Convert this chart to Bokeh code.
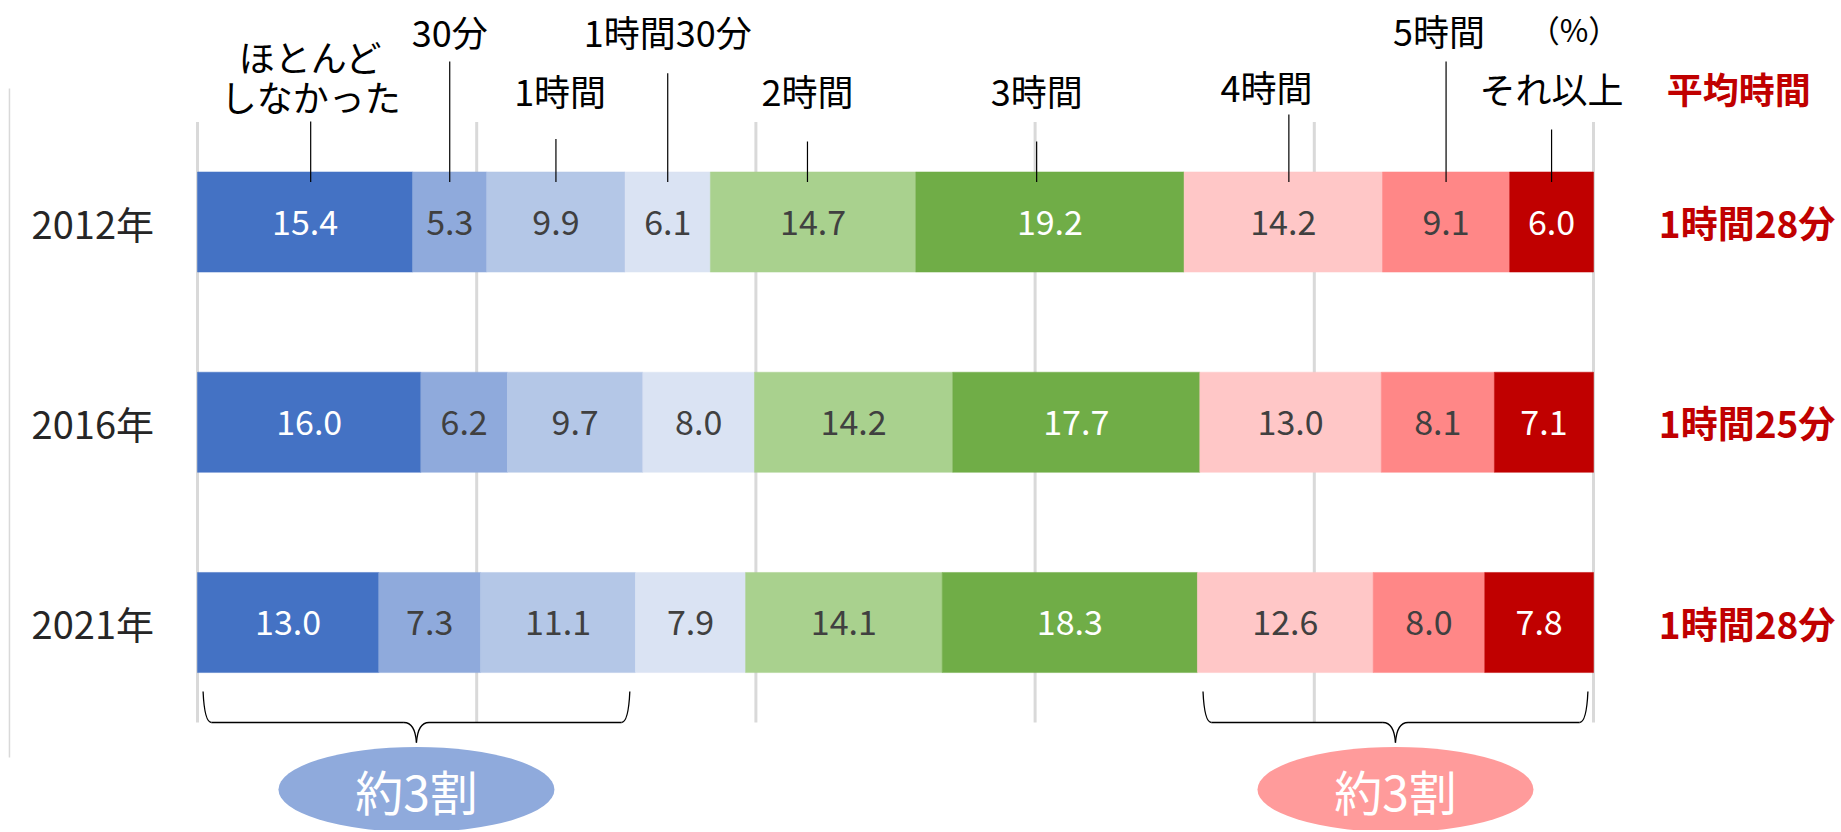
import numpy as np
from bokeh.plotting import figure
from bokeh.models import Range1d, ColumnDataSource
from bokeh.core.properties import value
from bokeh.embed import file_html
from bokeh.resources import INLINE

# ---------------- data ----------------
years = ["2012年", "2016年", "2021年"]
categories = ["ほとんど\nしなかった", "30分", "1時間", "1時間30分", "2時間",
              "3時間", "4時間", "5時間", "それ以上"]
values_2012 = [15.4, 5.3, 9.9, 6.1, 14.7, 19.2, 14.2, 9.1, 6.0]
values_2016 = [16.0, 6.2, 9.7, 8.0, 14.2, 17.7, 13.0, 8.1, 7.1]
values_2021 = [13.0, 7.3, 11.1, 7.9, 14.1, 18.3, 12.6, 8.0, 7.8]
average_time = ["1時間28分", "1時間25分", "1時間28分"]
average_title = "平均時間"
unit_label = "（%）"
grid_ticks = [0, 20, 40, 60, 80, 100]
brace_groups = [(0, 3), (6, 9)]          # category index ranges on the 2021 bar
brace_text = ["約3割", "約3割"]

# ---------------- styles ----------------
seg_colors = ["#4472C4", "#8FAADC", "#B4C7E7", "#DAE3F3", "#A9D18E",
              "#70AD47", "#FFC7C7", "#FF8787", "#C00000"]
label_colors = ["#FFFFFF", "#404040", "#404040", "#404040", "#404040",
                "#FFFFFF", "#404040", "#404040", "#FFFFFF"]
brace_fill = ["#8FAADC", "#FF9B9B"]
FONT = value("Noto Sans CJK JP")

W, H = 1836, 830
PX_PER_PCT = 13.96
X0_PX = 197.0
PX_PER_ROW = 200.25
Y0_PX = 221.5

rows = [values_2012, values_2016, values_2021]

# stacked (normalised to 100%) segments
ys, lefts, rights, mids, cols, labs, tcols = [], [], [], [], [], [], []
cum_rows = []
for i, row in enumerate(rows):
    arr = np.array(row, dtype=float)
    norm = arr / arr.sum() * 100.0
    right = np.cumsum(norm)
    left = right - norm
    cum_rows.append((left, right))
    for j in range(len(row)):
        ys.append(i)
        lefts.append(left[j])
        rights.append(right[j])
        mids.append((left[j] + right[j]) / 2)
        cols.append(seg_colors[j])
        labs.append(f"{row[j]:.1f}")
        tcols.append(label_colors[j])

src = ColumnDataSource(dict(y=ys, left=lefts, right=rights, mid=mids,
                            color=cols, label=labs, tcolor=tcols))

x_start = (0 - X0_PX) / PX_PER_PCT
x_end = x_start + W / PX_PER_PCT
y_top = (0 - Y0_PX) / PX_PER_ROW
y_bot = (H - Y0_PX) / PX_PER_ROW

p = figure(width=W, height=H,
           x_range=Range1d(x_start, x_end),
           y_range=Range1d(y_bot, y_top),
           output_backend="svg", toolbar_location=None,
           x_axis_location=None, y_axis_location=None,
           min_border=0, outline_line_color=None,
           background_fill_color="white", border_fill_color="white")
p.xgrid.visible = False
p.ygrid.visible = False

# left thin axis line
p.segment(x0=[-13.47], y0=[-0.667], x1=[-13.47], y1=[2.674],
          line_color="#D9D9D9", line_width=1.5)

# vertical gridlines
p.segment(x0=grid_ticks, y0=[-0.5] * len(grid_ticks),
          x1=grid_ticks, y1=[2.4994] * len(grid_ticks),
          line_color="#D9D9D9", line_width=3)

# bars
p.hbar(y="y", left="left", right="right", height=0.5,
       fill_color="color", line_color="color", line_width=0.5, source=src)

# value labels
p.text(x="mid", y="y", text="label", text_color="tcolor",
       text_align="center", text_baseline="middle",
       text_font=FONT, text_font_size="34px", source=src)

# year labels
p.text(x=[-7.5] * 3, y=list(range(len(years))), text=years,
       text_color="#262626", text_align="center", text_baseline="middle",
       text_font=FONT, text_font_size="38px")

# category labels with leader lines (on the 2012 bar)
left0, right0 = cum_rows[0]
mid0 = (left0 + right0) / 2
line_nudge = [0.4, 0, 0, 0, -0.4, -0.95, 0.4, 0, 0]
text_nudge = [0, 0, 0.3, 0, 0, 0, -1.6, -0.5, 0]
label_y = [(-0.828, -0.627), -0.955, -0.657, -0.955, -0.657, -0.657, -0.677, -0.96, -0.667]
line_top = [-0.502, -0.801, -0.414, -0.743, -0.402, -0.402, -0.537, -0.801, -0.462]
line_bottom = -0.2

lx = [mid0[j] + line_nudge[j] for j in range(len(categories))]
p.segment(x0=lx, y0=line_top, x1=lx, y1=[line_bottom] * len(lx),
          line_color="#000000", line_width=1.2)

tx, ty, tt = [], [], []
for j, name in enumerate(categories):
    parts = name.split("\n")
    if len(parts) == 1:
        tx.append(lx[j] + text_nudge[j]); ty.append(label_y[j]); tt.append(parts[0])
    else:
        for k, part in enumerate(parts):
            tx.append(lx[j] + text_nudge[j]); ty.append(label_y[j][k]); tt.append(part)
p.text(x=tx, y=ty, text=tt, text_color="#000000", text_align="center",
       text_baseline="middle", text_font=FONT, text_font_size="36px")

# unit
p.text(x=[98.6], y=[-0.965], text=[unit_label], text_color="#000000",
       text_align="center", text_baseline="middle", text_font=FONT,
       text_font_size="31px")

# average time
p.text(x=[110.4], y=[-0.667], text=[average_title], text_color="#C00000",
       text_align="center", text_baseline="middle", text_font=FONT,
       text_font_size="36px", text_font_style="bold")
p.text(x=[111.0] * 3, y=list(range(len(years))), text=average_time,
       text_color="#C00000", text_align="center", text_baseline="middle",
       text_font=FONT, text_font_size="37px", text_font_style="bold")

# braces + ellipses on the 2021 bar
left2, right2 = cum_rows[2]
yt, yh, ytip = 2.345, 2.4994, 2.60
cdx, mdx = 0.6, 0.9
for g, (a, b) in enumerate(brace_groups):
    x0 = left2[a] + 0.4
    x1 = right2[b - 1] - 0.4
    xc = (x0 + x1) / 2
    p.quadratic(x0=[x0, x1, xc - mdx, xc + mdx],
                y0=[yt, yt, yh, yh],
                x1=[x0 + cdx, x1 - cdx, xc, xc],
                y1=[yh, yh, ytip, ytip],
                cx=[x0 + 0.1, x1 - 0.1, xc - 0.1, xc + 0.1],
                cy=[yh, yh, yh, yh],
                line_color="#000000", line_width=1.3)
    p.segment(x0=[x0 + cdx, xc + mdx], y0=[yh, yh],
              x1=[xc - mdx, x1 - cdx], y1=[yh, yh],
              line_color="#000000", line_width=1.3)
    p.ellipse(x=[xc], y=[2.834], width=[276], height=[85],
              width_units="screen", height_units="screen",
              fill_color=brace_fill[g], line_color=None)
    p.text(x=[xc], y=[2.834], text=[brace_text[g]], text_color="#FFFFFF",
           text_align="center", text_baseline="middle", text_font=FONT,
           text_font_size="48px")

open("out.html", "w").write(file_html(p, INLINE))
